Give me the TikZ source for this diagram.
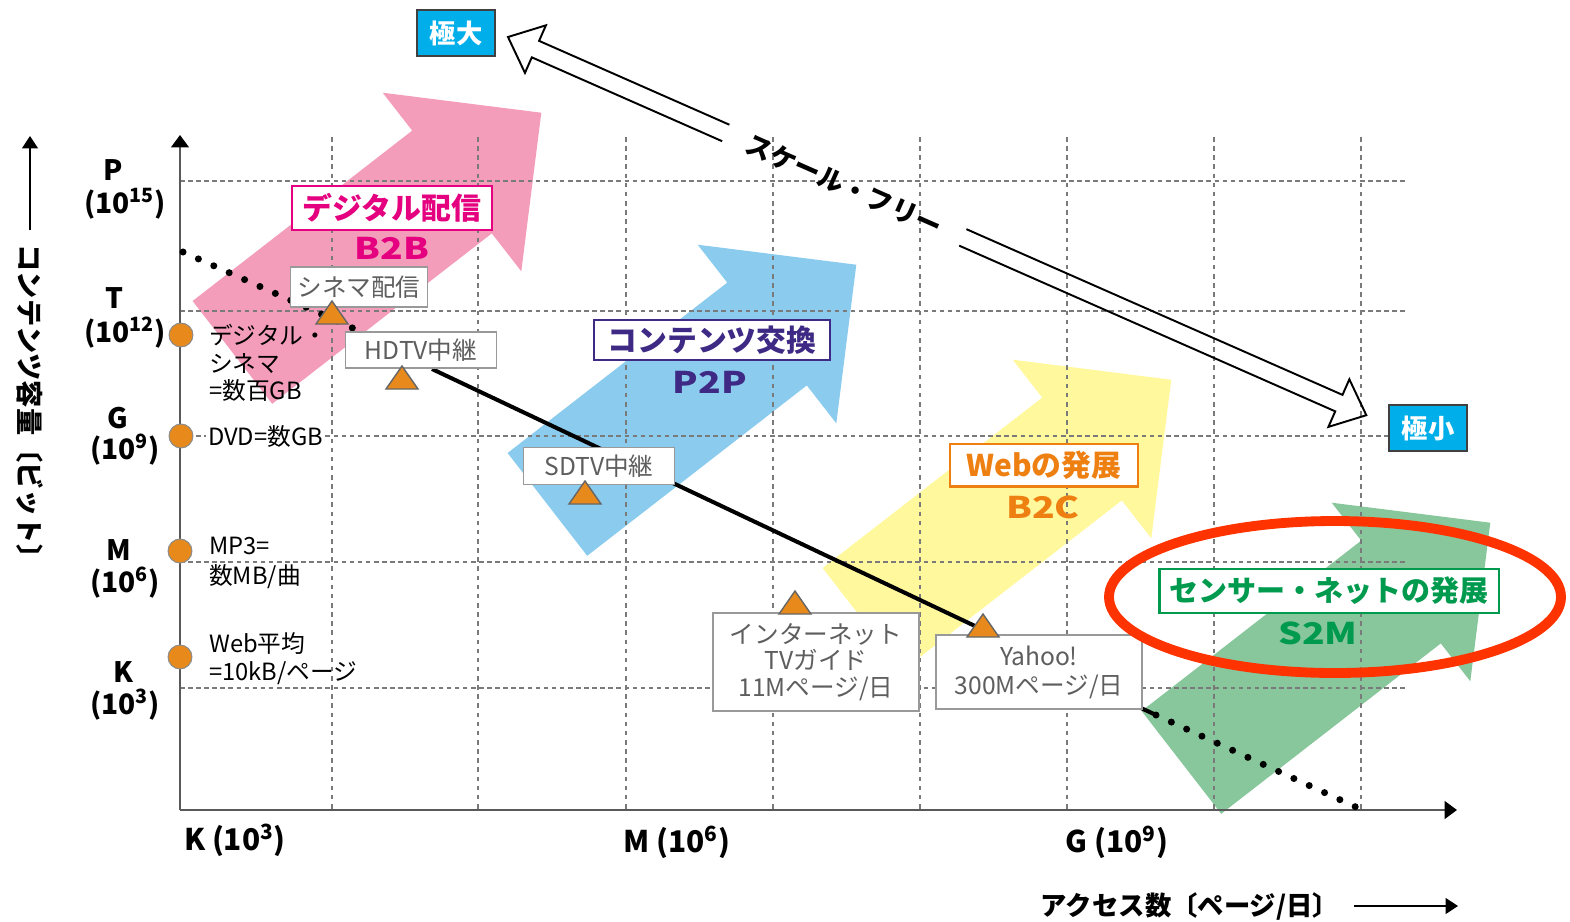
\documentclass[tikz,border=0pt]{standalone}
\usepackage{fontspec}
\setmainfont{Noto Sans CJK JP}
\usetikzlibrary{arrows.meta}
\definecolor{pinkA}{HTML}{F39DBA}
\definecolor{blueA}{HTML}{8ACBEE}
\definecolor{yellowA}{HTML}{FFF89D}
\definecolor{greenA}{HTML}{88C79B}
\definecolor{magentaT}{HTML}{E4007F}
\definecolor{purpleT}{HTML}{3E2A84}
\definecolor{orangeT}{HTML}{EE8012}
\definecolor{greenT}{HTML}{009A4E}
\definecolor{markO}{HTML}{E8891C}
\definecolor{cyanB}{HTML}{00AEEA}
\definecolor{redE}{HTML}{FF3300}
\definecolor{grayT}{HTML}{5E5E5E}
\definecolor{gridC}{HTML}{7A7A7A}
\newcommand\myfs[2]{\fontsize{#1pt}{#2pt}\selectfont}
\begin{document}
\begin{tikzpicture}[x=0.02cm,y=-0.02cm,
  gridh/.style={gridC, line width=0.9pt, dash pattern=on 2.6pt off 2pt},
  gridv/.style={gridC, line width=0.9pt, dash pattern=on 2.6pt off 2.6pt},
  axisline/.style={draw=black!65, line width=1.3pt},
  axtip/.style={-{Triangle[length=7pt,width=10pt,color=black]}},
  graybox/.style={draw=black!40, line width=1pt, fill=white, text=grayT, inner sep=0pt, align=center, font=\myfs{14}{15}},
  colbox/.style={draw=#1, line width=1.2pt, fill=white, text=#1, inner sep=0pt, font=\bfseries\myfs{17}{19}},
  coltxt/.style={text=#1, font=\bfseries\myfs{17}{19}, xscale=1.25},
  dotline/.style={line width=4pt, dash pattern=on 0pt off 9.6pt, line cap=round},
  capbox/.style={fill=cyanB, draw=black!75, line width=1pt, text=white, font=\bfseries\myfs{15}{17}, minimum width=44pt, minimum height=26pt, inner sep=0pt},
  orangedot/.style={circle, fill=markO, draw=black!45, line width=0.6pt, minimum size=13.6pt, inner sep=0pt},
  ticklab/.style={font=\bfseries\myfs{16}{18}},
  sidetxt/.style={anchor=west, align=left, font=\myfs{13.5}{15.6}},
  blockarrow/.pic={\fill[pic actions] (192.6,301) -- (412.2,130.6) -- (382.7,92.7) -- (541.3,112.7) -- (521.3,271.3) -- (491.8,233.4) -- (272.2,403.8) -- cycle;},
  mtri/.pic={\filldraw[fill=markO, draw=black!60, line width=0.8pt] (-16,11) -- (0,-12) -- (16,11) -- cycle;}
]
\useasboundingbox (0,0) rectangle (1570,921);

% block arrows
\pic[fill=pinkA] at (0,0) {blockarrow};
\pic[fill=blueA] at (315,152) {blockarrow};
\pic[fill=yellowA] at (630,267) {blockarrow};
\pic[fill=greenA] at (949,410) {blockarrow};

% grid
\foreach \y in {181,311,436,562,688} \draw[gridh] (180,\y) -- (1405,\y);
\foreach \x in {332,478,626,773,920,1067,1214,1361} \draw[gridv] (\x,137) -- (\x,810);

% axes
\coordinate (O) at (180,810);
\coordinate (ytop) at (180,135);
\coordinate (xend) at (1457,810);
\draw[axisline, axtip] (O) -- (ytop);
\draw[axisline, axtip] (O) -- (xend);

% trend lines
\coordinate (d1s) at (183,252);
\coordinate (d1e) at (357,330);
\draw[dotline] (d1s) -- (d1e);
\coordinate (l1) at (432,369);
\coordinate (l2) at (975,626);
\draw[line width=2.3pt] (l1) -- (l2);
\coordinate (l3) at (1141,708);
\coordinate (l4) at (1156,715);
\coordinate (l5) at (1358,808);
\draw[line width=2.3pt] (l3) -- (l4);
\draw[dotline] (l4) -- (l5);

% y tick labels
\node[ticklab] (yP) at (113,170) {P};
\node[ticklab] (yPe) at (125,204) {(10\textsuperscript{15})};
\node[ticklab] (yT) at (114,298) {T};
\node[ticklab] (yTe) at (125,333) {(10\textsuperscript{12})};
\node[ticklab] (yG) at (118,418) {G};
\node[ticklab] (yGe) at (125,450) {(10\textsuperscript{9})};
\node[ticklab] (yM) at (119,550) {M};
\node[ticklab] (yMe) at (125,583) {(10\textsuperscript{6})};
\node[ticklab] (yK) at (123,672) {K};
\node[ticklab] (yKe) at (125,705) {(10\textsuperscript{3})};

% side texts
\node[sidetxt] (dcin) at (203,363) {デジタル・\\シネマ\\=数百GB};
\node[sidetxt, fill=white, inner sep=1pt] (dvd) at (206,436) {DVD=数GB};
\node[sidetxt, font=\myfs{13.5}{17}] (mp3) at (203,563) {MP3=\\数MB/曲};
\node[sidetxt, font=\myfs{13.5}{16}] (webavg) at (203,659) {Web平均\\=10kB/ページ};

% orange dots
\node[orangedot] (c1) at (181,335) {};
\node[orangedot] (c2) at (181,436) {};
\node[orangedot] (c3) at (180,551) {};
\node[orangedot] (c4) at (180,657) {};

% x tick labels
\node[ticklab, font=\bfseries\myfs{17}{19}] (xK) at (235,840) {K (10\textsuperscript{3})};
\node[ticklab, font=\bfseries\myfs{17}{19}] (xM) at (677,842) {M (10\textsuperscript{6})};
\node[ticklab, font=\bfseries\myfs{17}{19}] (xG) at (1117,842) {G (10\textsuperscript{9})};

% axis titles
\node[font=\bfseries\myfs{15}{16}] (xlab) at (1190,906) {アクセス数〔ページ/日〕};
\coordinate (xa1) at ([xshift=5pt]xlab.east);
\coordinate (xa2) at (1458,906);
\draw[line width=0.8pt, -{Triangle[length=7pt,width=9pt]}] (xa1) -- (xa2);
\node[rotate=-90, font=\bfseries\myfs{15.5}{16}] (ylab) at (30,408) {コンテンツ容量〔ビット〕};
\coordinate (ya1) at ([yshift=5pt]ylab.west);
\coordinate (ya2) at (30,136);
\draw[line width=0.8pt, -{Triangle[length=7pt,width=9pt]}] (ya1) -- (ya2);

% colour labels
\node[colbox=magentaT, minimum width=114pt, minimum height=25pt] (b2bbox) at (392,208) {デジタル配信};
\node[coltxt=magentaT] (b2b) at (392,248) {B2B};
\node[colbox=purpleT, minimum width=134pt, minimum height=22.7pt] (p2pbox) at (712,340) {コンテンツ交換};
\node[coltxt=purpleT] (p2p) at (710,382) {P2P};
\node[colbox=orangeT, minimum width=107pt, minimum height=24.4pt] (b2cbox) at (1044,465) {Webの発展};
\node[coltxt=orangeT] (b2c) at (1043,507) {B2C};
\node[colbox=greenT, minimum width=193pt, minimum height=25pt, font=\bfseries\myfs{16.5}{19}] (s2mbox) at (1329,591) {センサー・ネットの発展};
\node[coltxt=greenT] (s2m) at (1318,633) {S2M};

% gray labels
\node[graybox, minimum width=78pt, minimum height=22.7pt] (cinema) at (359,287) {シネマ配信};
\node[graybox, minimum width=86pt, minimum height=20.4pt] (hdtv) at (421,350) {HDTV中継};
\node[graybox, minimum width=86pt, minimum height=21pt] (sdtv) at (599,466) {SDTV中継};
\node[graybox, minimum width=117pt, minimum height=56pt] (itv) at (816,662) {インターネット\\TVガイド\\11Mページ/日};
\node[graybox, minimum width=117pt, minimum height=42.5pt, font=\myfs{14}{16.5}] (yahoo) at (1039,672) {Yahoo!\\300Mページ/日};

% triangles
\pic at (332,313) {mtri};
\pic at (402,378) {mtri};
\pic at (585,493) {mtri};
\pic at (795,603) {mtri};
\pic at (983,626) {mtri};

% scale-free double arrow
\begin{scope}[shift={(508,37)}, rotate=-23.78]
  \draw[line width=1.1pt, line join=miter] (238,9) -- (30,9) -- (30,26) -- (0,0) -- (30,-26) -- (30,-9) -- (238,-9);
  \draw[line width=1.1pt, line join=miter] (497,9) -- (908,9) -- (908,26) -- (938,0) -- (908,-26) -- (908,-9) -- (497,-9);
  \node[rotate=-23.78, font=\bfseries\myfs{15}{17}] (sf) at (367,0) {スケール・フリー};
\end{scope}
\node[capbox] (kyokudai) at (456,33) {極大};
\node[capbox] (kyokusho) at (1428,428) {極小};

% red ellipse
\draw[redE, line width=5.6pt] (1335,597) ellipse [x radius=226, y radius=76];
\end{tikzpicture}
\end{document}
